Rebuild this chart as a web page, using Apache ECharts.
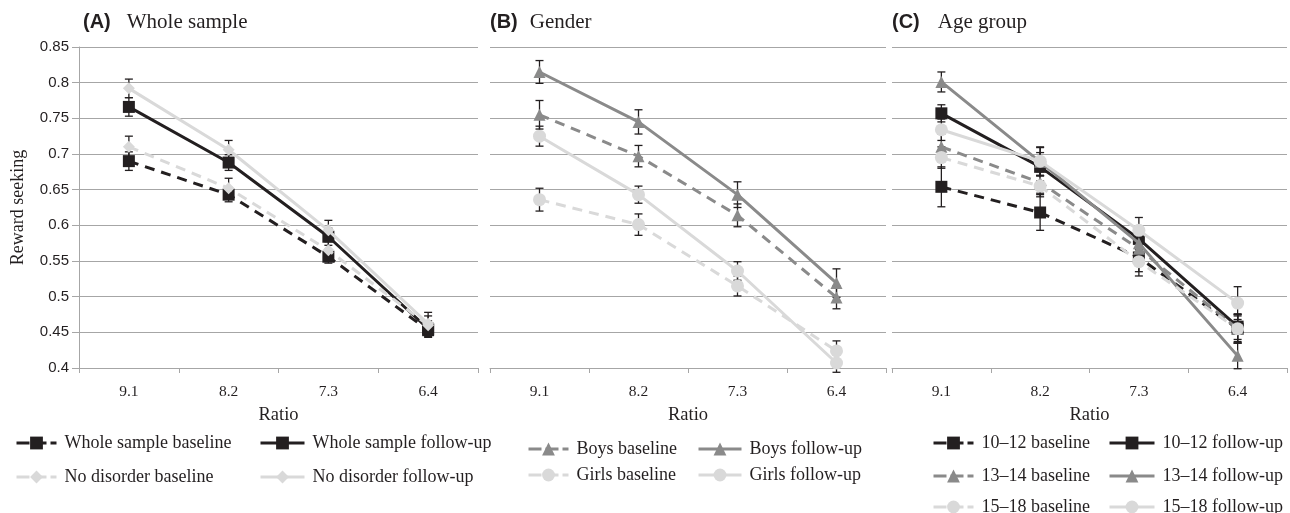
<!DOCTYPE html>
<html><head><meta charset="utf-8">
<script src="https://cdn.jsdelivr.net/npm/echarts@6/dist/echarts.min.js"></script>
<style>html,body{margin:0;padding:0;background:#fff}#c{width:1290px;height:513px}</style>
</head><body><div id="c"></div>
<script>
// ---------- data ----------
const categories = ['9.1', '8.2', '7.3', '6.4'];
const yMin = 0.4, yMax = 0.85, yStep = 0.05;
const yAxisName = 'Reward seeking';
const xAxisName = 'Ratio';
const panelLetters = ['(A)', '(B)', '(C)'];
const panelNames = ['Whole sample', 'Gender', 'Age group'];

// Panel A: whole sample
const wholeBaseline      = [0.690, 0.643, 0.556, 0.453];
const wholeBaselineErr   = [0.013, 0.010, 0.009, 0.010];
const wholeFollowup      = [0.766, 0.688, 0.584, 0.455];
const wholeFollowupErr   = [0.013, 0.011, 0.012, 0.011];
const noDisBaseline      = [0.710, 0.652, 0.565, 0.460];
const noDisBaselineErr   = [0.015, 0.014, 0.012, 0.013];
const noDisFollowup      = [0.792, 0.706, 0.593, 0.462];
const noDisFollowupErr   = [0.013, 0.013, 0.014, 0.016];

// Panel B: gender
const boysBaseline       = [0.755, 0.697, 0.614, 0.499];
const boysBaselineErr    = [0.020, 0.015, 0.016, 0.016];
const boysFollowup       = [0.815, 0.745, 0.643, 0.519];
const boysFollowupErr    = [0.016, 0.017, 0.018, 0.020];
const girlsBaseline      = [0.636, 0.601, 0.515, 0.424];
const girlsBaselineErr   = [0.016, 0.015, 0.014, 0.014];
const girlsFollowup      = [0.725, 0.643, 0.536, 0.407];
const girlsFollowupErr   = [0.014, 0.012, 0.013, 0.013];

// Panel C: age group
const age1012Baseline    = [0.654, 0.618, 0.555, 0.455];
const age1012BaselineErr = [0.028, 0.025, 0.020, 0.020];
const age1012Followup    = [0.757, 0.682, 0.581, 0.458];
const age1012FollowupErr = [0.012, 0.020, 0.015, 0.018];
const age1314Baseline    = [0.710, 0.660, 0.567, 0.455];
const age1314BaselineErr = [0.018, 0.015, 0.015, 0.018];
const age1314Followup    = [0.801, 0.689, 0.575, 0.417];
const age1314FollowupErr = [0.014, 0.020, 0.016, 0.018];
const age1518Baseline    = [0.695, 0.655, 0.549, 0.455];
const age1518BaselineErr = [0.015, 0.015, 0.020, 0.020];
const age1518Followup    = [0.734, 0.690, 0.593, 0.491];
const age1518FollowupErr = [0.015, 0.020, 0.018, 0.023];

// ---------- series definitions (panel, name, values, errors, look) ----------
const seriesDefs = [
  [0, 'Whole sample baseline',  wholeBaseline,   wholeBaselineErr,   'black', 'rect',     true],
  [0, 'Whole sample follow-up', wholeFollowup,   wholeFollowupErr,   'black', 'rect',     false],
  [0, 'No disorder baseline',   noDisBaseline,   noDisBaselineErr,   'light', 'diamond',  true],
  [0, 'No disorder follow-up',  noDisFollowup,   noDisFollowupErr,   'light', 'diamond',  false],
  [1, 'Boys baseline',          boysBaseline,    boysBaselineErr,    'gray',  'triangle', true],
  [1, 'Boys follow-up',         boysFollowup,    boysFollowupErr,    'gray',  'triangle', false],
  [1, 'Girls baseline',         girlsBaseline,   girlsBaselineErr,   'light', 'circle',   true],
  [1, 'Girls follow-up',        girlsFollowup,   girlsFollowupErr,   'light', 'circle',   false],
  [2, '10–12 baseline',         age1012Baseline, age1012BaselineErr, 'black', 'rect',     true],
  [2, '10–12 follow-up',        age1012Followup, age1012FollowupErr, 'black', 'rect',     false],
  [2, '13–14 baseline',         age1314Baseline, age1314BaselineErr, 'gray',  'triangle', true],
  [2, '13–14 follow-up',        age1314Followup, age1314FollowupErr, 'gray',  'triangle', false],
  [2, '15–18 baseline',         age1518Baseline, age1518BaselineErr, 'light', 'circle',   true],
  [2, '15–18 follow-up',        age1518Followup, age1518FollowupErr, 'light', 'circle',   false]
];

// ---------- layout & style ----------
const COLORS = { black: '#231f20', gray: '#8a8a8a', light: '#d9d9d9' };
const SYMBOL_SIZE = { rect: 12, diamond: 12, triangle: 12, circle: 13 };
const TEXT = '#231f20';
const GRIDC = '#a6a6a6';
const SERIF = 'Liberation Serif';
const SANS = 'Liberation Sans';
const grids = [
  { left: 79,  top: 47, width: 399, height: 321 },
  { left: 490, top: 47, width: 396, height: 321 },
  { left: 892, top: 47, width: 395, height: 321 }
];
const titleLeft = [83, 490, 892];
const titleGap = [16, 12, 18];
// legend item positions [iconLeft, centerY]
const legendPos = [
  [15, 444], [259, 444], [15, 478], [259, 478],
  [527, 450], [697, 450], [527, 476], [697, 476],
  [932, 444], [1108, 444], [932, 477], [1108, 477], [932, 508], [1108, 508]
];
const legendIconW = [40, 44, 40, 44, 40, 43, 40, 43, 40, 45, 40, 45, 40, 45];

const option = {
  animation: false,
  backgroundColor: '#ffffff',
  title: panelLetters.map((l, i) => ({
    left: titleLeft[i], top: 9,
    text: '{a|' + l + '}{b|' + panelNames[i] + '}',
    padding: 0,
    textStyle: { fontWeight: 'normal', rich: {
      a: { fontFamily: SANS, fontWeight: 'bold', fontSize: 20, color: TEXT, lineHeight: 26, padding: [0, titleGap[i], 0, 0] },
      b: { fontFamily: SERIF, fontWeight: 'normal', fontSize: 21, color: TEXT, lineHeight: 26 }
    } }
  })),
  grid: grids,
  xAxis: grids.map((g, i) => ({
    gridIndex: i, type: 'category', data: categories, boundaryGap: true,
    axisLine: { show: true, lineStyle: { color: GRIDC, width: 1 } },
    axisTick: { show: true, length: 5, lineStyle: { color: GRIDC } },
    axisLabel: { fontFamily: SERIF, fontSize: 15.5, color: TEXT, margin: 16 },
    name: xAxisName, nameLocation: 'middle', nameGap: 38,
    nameTextStyle: { fontFamily: SERIF, fontSize: 18.5, color: TEXT }
  })),
  yAxis: grids.map((g, i) => ({
    gridIndex: i, type: 'value', min: yMin, max: yMax, interval: yStep,
    axisLine: { show: i === 0, lineStyle: { color: GRIDC, width: 1 } },
    axisTick: { show: i === 0, length: 7, lineStyle: { color: GRIDC } },
    axisLabel: { show: i === 0, fontFamily: SANS, fontSize: 15, color: TEXT, margin: 10 },
    splitLine: { show: true, lineStyle: { color: GRIDC, width: 1.2 } },
    name: i === 0 ? yAxisName : '', nameLocation: 'middle', nameGap: 52,
    nameTextStyle: { fontFamily: SERIF, fontSize: 18, color: TEXT }
  })),
  legend: seriesDefs.map((d, k) => ({
    data: [d[1]],
    left: legendPos[k][0], top: legendPos[k][1] - 10,
    padding: 0, itemWidth: legendIconW[k], itemHeight: 16,
    selectedMode: false,
    lineStyle: { width: 3, type: d[6] ? [13, 4] : 'solid' },
    textStyle: { fontFamily: SERIF, fontSize: 18, color: TEXT, padding: [0, 0, 0, 3] }
  })),
  series: []
};

seriesDefs.forEach((d, k) => {
  const [p, name, vals, errs, col, sym, dashed] = d;
  option.series.push({
    type: 'custom', xAxisIndex: p, yAxisIndex: p, z: 1, silent: true,
    data: vals.map((v, i) => [i, v - errs[i], v + errs[i]]),
    encode: { x: 0, y: [1, 2] },
    renderItem: (params, api) => {
      const top = api.coord([api.value(0), api.value(2)]);
      const bot = api.coord([api.value(0), api.value(1)]);
      const w = 4, st = { stroke: '#231f20', lineWidth: 1.3 };
      return { type: 'group', children: [
        { type: 'line', shape: { x1: top[0], y1: top[1], x2: bot[0], y2: bot[1] }, style: st },
        { type: 'line', shape: { x1: top[0] - w, y1: top[1], x2: top[0] + w, y2: top[1] }, style: st },
        { type: 'line', shape: { x1: bot[0] - w, y1: bot[1], x2: bot[0] + w, y2: bot[1] }, style: st }
      ] };
    }
  });
  option.series.push({
    type: 'line', name, xAxisIndex: p, yAxisIndex: p, z: 2 + k,
    data: vals, symbol: sym, symbolSize: SYMBOL_SIZE[sym],
    itemStyle: { color: COLORS[col], opacity: 1 },
    lineStyle: { color: COLORS[col], width: 3, type: dashed ? [10, 7] : 'solid' },
    emphasis: { disabled: true }
  });
});

const chart = echarts.init(document.getElementById('c'), null, { renderer: 'canvas' });
chart.setOption(option);
</script>
</body></html>
